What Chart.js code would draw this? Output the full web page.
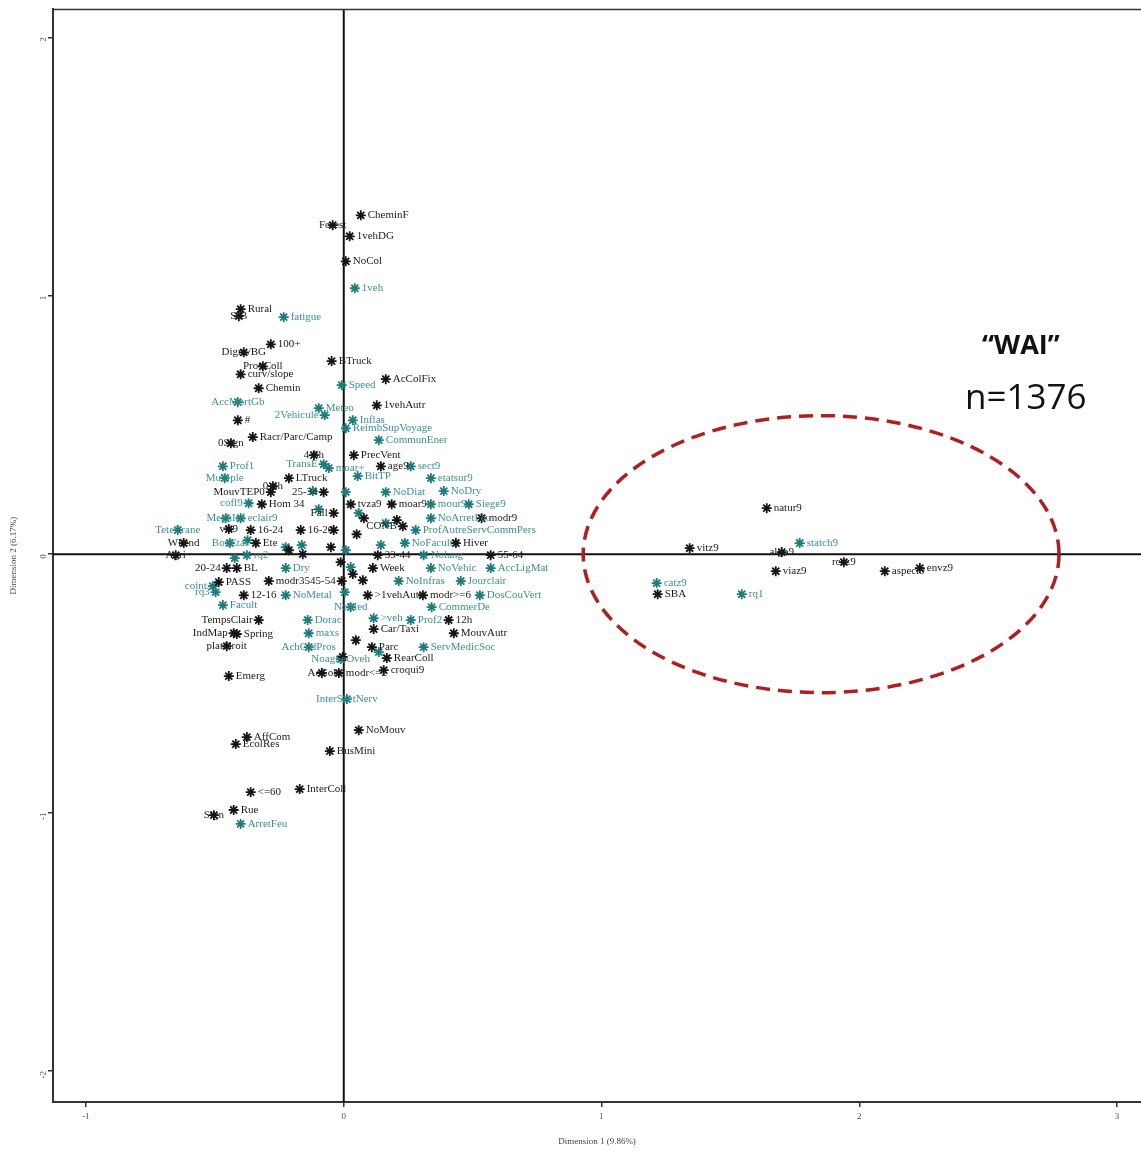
<!DOCTYPE html>
<html>
<head>
<meta charset="utf-8">
<script src="https://cdn.jsdelivr.net/npm/chart.js@4.4.1/dist/chart.umd.min.js"></script>
<style>
  body { margin: 0; background: #fff; }
  canvas { display: block; }
</style>
</head>
<body>
<canvas id="caChart" width="1141" height="1151"></canvas>
<script>
// active categories (black)
const blackLabels = ['CheminF','Forest','1vehDG','NoCol','Rural','SIB','100+','Digns/BG','ProvColl','curv/slope',
  'Chemin','BTruck','AcColFix','1vehAutr','#','0Sign','Racr/Parc/Camp','4-6h','PrecVent','age9',
  '0-4h','LTruck','MouvTEP0','25-34','Hom 34','tvza9','moar9','Fall','modr9','CONB',
  'vis9','16-24','16-20','Wkend','Ete','Hiver','Agri','33-44','55-64','20-24',
  'BL','Week','PASS','modr35','45-54','12-16','>1vehAutr','modr>=6','TempsClair','12h',
  'IndMap','Spring','Car/Taxi','MouvAutr','plat/droit','Parc','RearColl','Emerg','AcCol','modr<=2',
  'croqui9','NoMouv','AffCom','EcolRes','BusMini','<=60','InterColl','Sign','Rue','natur9',
  'vitz9','algo9','viaz9','rcez9','aspect9','envz9','SBA','','','',
  '','','','','','','','',''];
const blackX = [0.066,-0.043,0.023,0.008,-0.400,-0.407,-0.283,-0.388,-0.314,-0.400,
  -0.330,-0.047,0.163,0.128,-0.411,-0.438,-0.353,-0.116,0.039,0.144,
  -0.275,-0.213,-0.283,-0.078,-0.318,0.027,0.186,-0.039,0.535,0.229,
  -0.446,-0.361,-0.167,-0.621,-0.341,0.435,-0.652,0.132,0.570,-0.454,
  -0.415,0.113,-0.485,-0.291,-0.008,-0.388,0.093,0.307,-0.330,0.407,
  -0.427,-0.415,0.116,0.427,-0.454,0.109,0.167,-0.446,-0.085,-0.019,
  0.155,0.058,-0.376,-0.419,-0.054,-0.361,-0.171,-0.504,-0.427,1.641,
  1.342,1.699,1.676,1.940,2.099,2.235,1.218,-0.039,0.050,-0.050,
  -0.012,0.035,0.074,0.206,-0.213,-0.159,-0.004,0.047,0.078];
const blackY = [1.311,1.273,1.230,1.133,0.948,0.921,0.812,0.781,0.727,0.696,
  0.642,0.747,0.677,0.576,0.518,0.429,0.453,0.383,0.383,0.340,
  0.263,0.294,0.240,0.240,0.193,0.193,0.193,0.159,0.139,0.108,
  0.097,0.093,0.093,0.043,0.043,0.043,-0.004,-0.004,-0.004,-0.054,
  -0.054,-0.054,-0.108,-0.104,-0.104,-0.159,-0.159,-0.159,-0.255,-0.255,
  -0.306,-0.309,-0.290,-0.306,-0.356,-0.360,-0.402,-0.472,-0.460,-0.460,
  -0.449,-0.681,-0.708,-0.735,-0.762,-0.921,-0.909,-1.010,-0.990,0.178,
  0.023,0.008,-0.066,-0.031,-0.066,-0.054,-0.155,0.093,0.077,0.027,
  -0.031,-0.077,-0.101,0.132,0.015,0.000,-0.398,-0.333,0.139];

// supplementary categories (teal)
const tealLabels = ['1veh','fatigue','Speed','AccMortGb','Meteo','2Vehicule','Inflas','ReimbSupVoyage','CommunEner','Prof1',
  'TransE','moar+','sect9','Multiple','BitTP','etatsur9','NoDiat','NoDry','cofl9','mour9',
  'Siege9','MeghInf','eclair9','NoArretFeu','TeteCrane','ProfAutreServCommPers','BonEtat','NoFacult','rq2','Nolang',
  'Dry','NoVehic','AccLigMat','coint','NoInfras','Jourclair','rq3','NoMetal','DosCouVert','Facult',
  'NoMed','CommerDe','Dorac','>veh','Prof2','maxs','AchOldPros','ServMedicSoc','NoagSeOveh','InterSectNerv',
  'ArretFeu','statch9','catz9','rq1','','','','','','',
  '','','','','','','',''];
const tealX = [0.043,-0.233,-0.008,-0.411,-0.097,-0.074,0.035,0.008,0.136,-0.469,
  -0.078,-0.058,0.260,-0.462,0.054,0.338,0.163,0.388,-0.369,0.338,
  0.485,-0.458,-0.400,0.338,-0.644,0.279,-0.442,0.237,-0.376,0.310,
  -0.225,0.338,0.570,-0.508,0.213,0.454,-0.497,-0.225,0.528,-0.469,
  0.027,0.341,-0.140,0.116,0.260,-0.136,-0.136,0.310,-0.012,0.012,
  -0.400,1.769,1.214,1.544,0.008,-0.120,-0.097,0.058,0.163,-0.225,
  -0.163,0.008,0.027,0.004,0.136,-0.373,0.144,-0.423];
const tealY = [1.029,0.917,0.654,0.588,0.565,0.538,0.518,0.487,0.441,0.340,
  0.348,0.333,0.340,0.294,0.302,0.294,0.240,0.244,0.197,0.193,
  0.193,0.139,0.139,0.139,0.093,0.093,0.043,0.043,-0.004,-0.004,
  -0.054,-0.054,-0.054,-0.124,-0.104,-0.104,-0.147,-0.159,-0.159,-0.197,
  -0.205,-0.205,-0.255,-0.248,-0.255,-0.306,-0.360,-0.360,-0.406,-0.561,
  -1.044,0.043,-0.112,-0.155,0.240,0.244,0.174,0.159,0.120,0.027,
  0.035,0.015,-0.050,-0.147,-0.379,0.054,0.035,-0.015];

const xTicks = [-1, 0, 1, 2, 3];
const yTicks = [-2, -1, 0, 1, 2];
const xTitle = 'Dimension 1 (9.86%)';
const yTitle = 'Dimension 2 (6.17%)';

// highlighted group
const groupName = '\u201CWAI\u201D';
const groupCount = 'n=1376';
const ellipseCenter = [1.852, 0.0];
const ellipseRadius = [0.923, 0.536];
const groupNamePos = [2.627, 0.805];
const groupCountPos = [2.646, 0.600];

const centerLabels = new Set(['Forest','SIB','Digns/BG','ProvColl','0Sign','4-6h','vis9','Wkend','Agri','plat/droit',
  'AcCol','Sign','algo9','rcez9','AccMortGb','Multiple','MeghInf','TeteCrane','BonEtat','NoMed',
  'AchOldPros','NoagSeOveh','InterSectNerv','0-4h']);
const leftLabels = new Set(['MouvTEP0','25-34','Fall','CONB','20-24','45-54','TempsClair','IndMap','2Vehicule','TransE',
  'cofl9','coint','rq3']);

const BLACK = '#151515';
const TEAL = '#1d7b7b';
const TEAL_TEXT = '#3d8f8f';

const toPoints = (xs, ys) => xs.map((x, i) => ({ x: x, y: ys[i] }));

const overlayPlugin = {
  id: 'overlay',
  beforeDatasetsDraw(chart) {
    const { ctx, chartArea, scales } = chart;
    const x0 = scales.x.getPixelForValue(0);
    const y0 = scales.y.getPixelForValue(0);
    ctx.save();
    ctx.strokeStyle = '#111';
    ctx.lineWidth = 2;
    ctx.beginPath();
    ctx.moveTo(x0, chartArea.top);
    ctx.lineTo(x0, chartArea.bottom);
    ctx.moveTo(chartArea.left, y0);
    ctx.lineTo(chartArea.right, y0);
    ctx.stroke();
    // top frame line
    ctx.strokeStyle = '#333';
    ctx.lineWidth = 1.5;
    ctx.beginPath();
    ctx.moveTo(chartArea.left, chartArea.top);
    ctx.lineTo(chartArea.right, chartArea.top);
    ctx.stroke();
    ctx.restore();
  },
  afterDatasetsDraw(chart) {
    const { ctx, scales } = chart;
    ctx.save();
    ctx.font = '11px "Liberation Serif", serif';
    ctx.textBaseline = 'middle';
    chart.data.datasets.forEach((ds, di) => {
      const meta = chart.getDatasetMeta(di);
      ctx.fillStyle = di === 0 ? '#1a1a1a' : TEAL_TEXT;
      meta.data.forEach((pt, i) => {
        const label = ds.labels[i];
        if (!label) return;
        if (centerLabels.has(label)) {
          ctx.textAlign = 'center';
          ctx.fillText(label, pt.x, pt.y);
        } else if (leftLabels.has(label)) {
          ctx.textAlign = 'right';
          ctx.fillText(label, pt.x - 6, pt.y);
        } else {
          ctx.textAlign = 'left';
          ctx.fillText(label, pt.x + 7, pt.y);
        }
      });
    });

    // dashed ellipse around the group
    const cx = scales.x.getPixelForValue(ellipseCenter[0]);
    const cy = scales.y.getPixelForValue(ellipseCenter[1]);
    const rx = scales.x.getPixelForValue(ellipseCenter[0] + ellipseRadius[0]) - cx;
    const ry = cy - scales.y.getPixelForValue(ellipseCenter[1] + ellipseRadius[1]);
    ctx.strokeStyle = '#b01f1f';
    ctx.lineWidth = 3.5;
    ctx.setLineDash([14, 8]);
    ctx.beginPath();
    ctx.ellipse(cx, cy, rx, ry, 0, 0, Math.PI * 2);
    ctx.stroke();
    ctx.setLineDash([]);

    ctx.fillStyle = '#111';
    ctx.textAlign = 'center';
    ctx.font = 'bold 27px "Open Sans", sans-serif';
    ctx.fillText(groupName, scales.x.getPixelForValue(groupNamePos[0]), scales.y.getPixelForValue(groupNamePos[1]));
    ctx.font = '35px "Open Sans", sans-serif';
    ctx.fillText(groupCount, scales.x.getPixelForValue(groupCountPos[0]), scales.y.getPixelForValue(groupCountPos[1]));
    ctx.restore();
  }
};

const ctx = document.getElementById('caChart').getContext('2d');
new Chart(ctx, {
  type: 'scatter',
  data: {
    datasets: [
      {
        data: toPoints(blackX, blackY),
        labels: blackLabels,
        pointStyle: 'star',
        radius: 5,
        borderWidth: 1.8,
        borderColor: BLACK,
        backgroundColor: BLACK,
      },
      {
        data: toPoints(tealX, tealY),
        labels: tealLabels,
        pointStyle: 'star',
        radius: 5,
        borderWidth: 1.8,
        borderColor: TEAL,
        backgroundColor: TEAL,
      },
    ],
  },
  options: {
    responsive: false,
    animation: false,
    layout: { autoPadding: false, padding: { top: 0, right: 0, left: 0, bottom: 0 } },
    plugins: { legend: { display: false }, tooltip: { enabled: false } },
    scales: {
      x: {
        type: 'linear',
        min: -1.128,
        max: 3.093,
        afterBuildTicks: (axis) => { axis.ticks = xTicks.map((v) => ({ value: v })); },
        afterFit: (axis) => { axis.height = 49; },
        grid: { display: true, drawOnChartArea: false, drawTicks: true, tickLength: 5, color: '#333', lineWidth: 1.5 },
        border: { display: true, color: '#333', width: 2 },
        ticks: { font: { family: 'Liberation Serif', size: 9 }, color: '#555', padding: 4, maxRotation: 0 },
        title: { display: true, text: xTitle, font: { family: 'Liberation Serif', size: 9 }, color: '#444', padding: { top: 0, bottom: 4 } },
      },
      y: {
        type: 'linear',
        min: -2.12,
        max: 2.108,
        afterBuildTicks: (axis) => { axis.ticks = yTicks.map((v) => ({ value: v })); },
        afterFit: (axis) => { axis.width = 53; },
        grid: { display: true, drawOnChartArea: false, drawTicks: true, tickLength: 5, color: '#333', lineWidth: 1.5 },
        border: { display: true, color: '#333', width: 2 },
        ticks: { font: { family: 'Liberation Serif', size: 9 }, color: '#555', padding: 4, minRotation: 90, maxRotation: 90 },
        title: { display: true, text: yTitle, font: { family: 'Liberation Serif', size: 9 }, color: '#444', padding: { top: 8, bottom: 0 } },
      },
    },
  },
  plugins: [overlayPlugin],
});
</script>
</body>
</html>
